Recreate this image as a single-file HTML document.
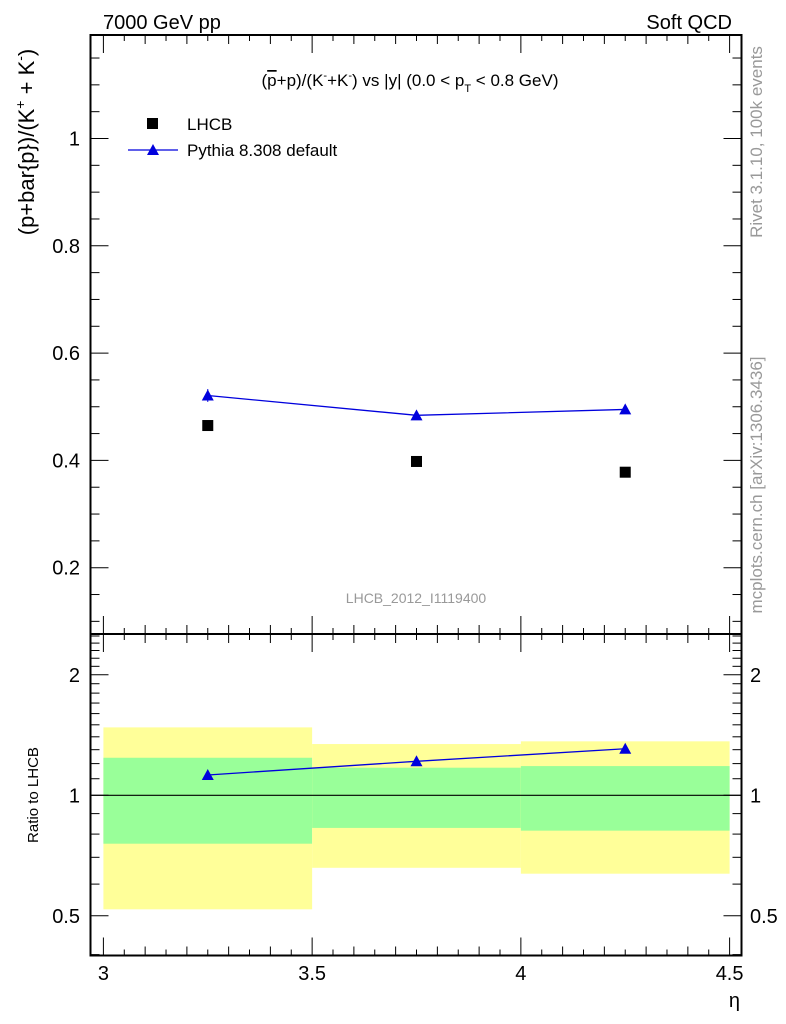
<!DOCTYPE html>
<html><head><meta charset="utf-8"><style>
html,body{margin:0;padding:0;background:#fff;}
svg{display:block;font-family:"Liberation Sans",Arial,sans-serif;}
</style></head><body>
<svg id="chart" width="786" height="1024" viewBox="0 0 786 1024">
<text x="103" y="29" font-size="20">7000 GeV pp</text>
<text x="732" y="29" font-size="20" text-anchor="end">Soft QCD</text>
<text x="410" y="86" font-size="17" text-anchor="middle">(<tspan text-decoration="overline">p</tspan>+p)/(K<tspan dy="-7" font-size="11">-</tspan><tspan dy="7">+K</tspan><tspan dy="-7" font-size="11">-</tspan><tspan dy="7">) vs |y| (0.0 &lt; p</tspan><tspan dy="6" font-size="11">T</tspan><tspan dy="-6"> &lt; 0.8 GeV)</tspan></text>
<text transform="translate(34,142) rotate(-90)" font-size="22" text-anchor="middle">(p+bar{p})/(K<tspan dy="-9" font-size="14">+</tspan><tspan dy="9"> + K</tspan><tspan dy="-9" font-size="14">-</tspan><tspan dy="9">)</tspan></text>
<text transform="translate(38,795) rotate(-90)" font-size="15" text-anchor="middle">Ratio to LHCB</text>
<text transform="translate(762,142) rotate(-90)" font-size="17" fill="#999" text-anchor="middle">Rivet 3.1.10,  100k events</text>
<text transform="translate(762,485) rotate(-90)" font-size="17" fill="#999" text-anchor="middle">mcplots.cern.ch [arXiv:1306.3436]</text>
<text x="416" y="603" font-size="14" fill="#999" text-anchor="middle">LHCB_2012_I1119400</text>
<text x="740" y="1007" font-size="20" text-anchor="end">η</text>
<g id="g"></g>
</svg>
<script>
const binEdges=[3.0,3.5,4.0,4.5];
const xCenters=[3.25,3.75,4.25];
const lhcb=[0.465,0.398,0.378];
const pythia=[0.521,0.484,0.495];
const pythiaErr=[0.012,0.004,0.004];
const ratio=[1.124,1.216,1.307];
const yellowHi=[1.478,1.343,1.364];
const yellowLo=[0.519,0.659,0.637];
const greenHi=[1.241,1.172,1.183];
const greenLo=[0.757,0.829,0.816];
const mainTicks=[0.2,0.4,0.6,0.8,1];
const ratioTicks=[0.5,1,2];
const xTicks=[3,3.5,4,4.5];

const NS="http://www.w3.org/2000/svg";
const g=document.getElementById('g');
const L=90.5,R=741.5,T=35,M=634,B=955.5;
const X=v=>103.4+(v-3)*(729.6-103.4)/1.5;
const Y=v=>138.5+(1-v)*536.5;
const YR=v=>795.3-Math.log2(v)*120.5;
function mk(tag,attrs){const e=document.createElementNS(NS,tag);for(const k in attrs)e.setAttribute(k,attrs[k]);g.appendChild(e);return e;}

for(let i=0;i<3;i++){
 let e=mk('rect',{x:X(binEdges[i]),y:YR(yellowHi[i]),width:X(binEdges[i+1])-X(binEdges[i]),height:YR(yellowLo[i])-YR(yellowHi[i]),fill:'#ffff99'});
 
 
 e=mk('rect',{x:X(binEdges[i]),y:YR(greenHi[i]),width:X(binEdges[i+1])-X(binEdges[i]),height:YR(greenLo[i])-YR(greenHi[i]),fill:'#99ff99'});
 
 
}
let one=mk('line',{x1:L,x2:R,y1:YR(1),y2:YR(1),stroke:'#000','stroke-width':1.2});



for(const [y1,y2,n] of [[T,M,'main-frame'],[M,B,'ratio-frame']]){
 const f=mk('rect',{x:L,y:y1,width:R-L,height:y2-y1,fill:'none',stroke:'#000','stroke-width':2});
 
 
}
for(let k=0;k<=30;k++){
 const v=3+k*0.05;const x=X(v);const maj=k%10==0;const len=maj?18:(k%2==0?9:6);
 for(const [yb,dir] of [[T,1],[M,-1],[M,1],[B,-1]]) mk('line',{x1:x,x2:x,y1:yb,y2:yb+dir*len,stroke:'#000','stroke-width':1});
}
xTicks.forEach(v=>{const t=mk('text',{x:X(v),y:980,'font-size':20,'text-anchor':'middle'});t.textContent=String(v);
 
 });
for(let k=2;k<=23;k++){const v=k*0.05;const y=Y(v);if(y<T||y>M)continue;const maj=k%4==0;const len=maj?18:9;
 mk('line',{x1:L,x2:L+len,y1:y,y2:y,stroke:'#000'});mk('line',{x1:R,x2:R-len,y1:y,y2:y,stroke:'#000'});}
mainTicks.forEach(v=>{const t=mk('text',{x:80,y:Y(v)+7,'font-size':20,'text-anchor':'end'});t.textContent=String(v);
 
 });
const rt=[0.4,0.5,0.6,0.7,0.8,0.9,1,1.1,1.2,1.3,1.4,1.5,1.6,1.7,1.8,1.9,2,2.1,2.2,2.3,2.4,2.5];
rt.forEach(v=>{const y=YR(v);if(y<M||y>B)return;const maj=ratioTicks.includes(v);const len=maj?18:9;
 mk('line',{x1:L,x2:L+len,y1:y,y2:y,stroke:'#000'});mk('line',{x1:R,x2:R-len,y1:y,y2:y,stroke:'#000'});});
ratioTicks.forEach(v=>{for(const [x,a] of [[80,'end'],[750,'start']]){const t=mk('text',{x:x,y:YR(v)+7,'font-size':20,'text-anchor':a});t.textContent=String(v);
 
 }});

function tri(cx,cy,n){const p=mk('polygon',{points:`${cx},${cy-6} ${cx-6},${cy+5} ${cx+6},${cy+5}`,fill:'#0000dd'});
 
 }
let pl=mk('polyline',{points:xCenters.map((x,i)=>X(x)+','+Y(pythia[i])).join(' '),fill:'none',stroke:'#0000dd','stroke-width':1.3});


xCenters.forEach((x,i)=>{mk('line',{x1:X(x),x2:X(x),y1:Y(pythia[i]+pythiaErr[i]),y2:Y(pythia[i]-pythiaErr[i]),stroke:'#0000dd'});tri(X(x),Y(pythia[i]),'pythia-point');});
xCenters.forEach((x,i)=>{const r=mk('rect',{x:X(x)-5.5,y:Y(lhcb[i])-5.5,width:11,height:11,fill:'#000'});
 
 });
let rl=mk('polyline',{points:xCenters.map((x,i)=>X(x)+','+YR(ratio[i])).join(' '),fill:'none',stroke:'#0000dd','stroke-width':1.3});


xCenters.forEach((x,i)=>tri(X(x),YR(ratio[i]),'ratio-point'));
let lr=mk('rect',{x:147,y:118,width:11,height:11,fill:'#000'});


let lt=mk('text',{x:187,y:130,'font-size':17});lt.textContent='LHCB';


let ll=mk('line',{x1:128,x2:178,y1:150,y2:150,stroke:'#0000dd','stroke-width':1.3});


tri(153,150,'legend-pythia-marker');
let lt2=mk('text',{x:187,y:156,'font-size':17});lt2.textContent='Pythia 8.308 default';


</script>
</body></html>
